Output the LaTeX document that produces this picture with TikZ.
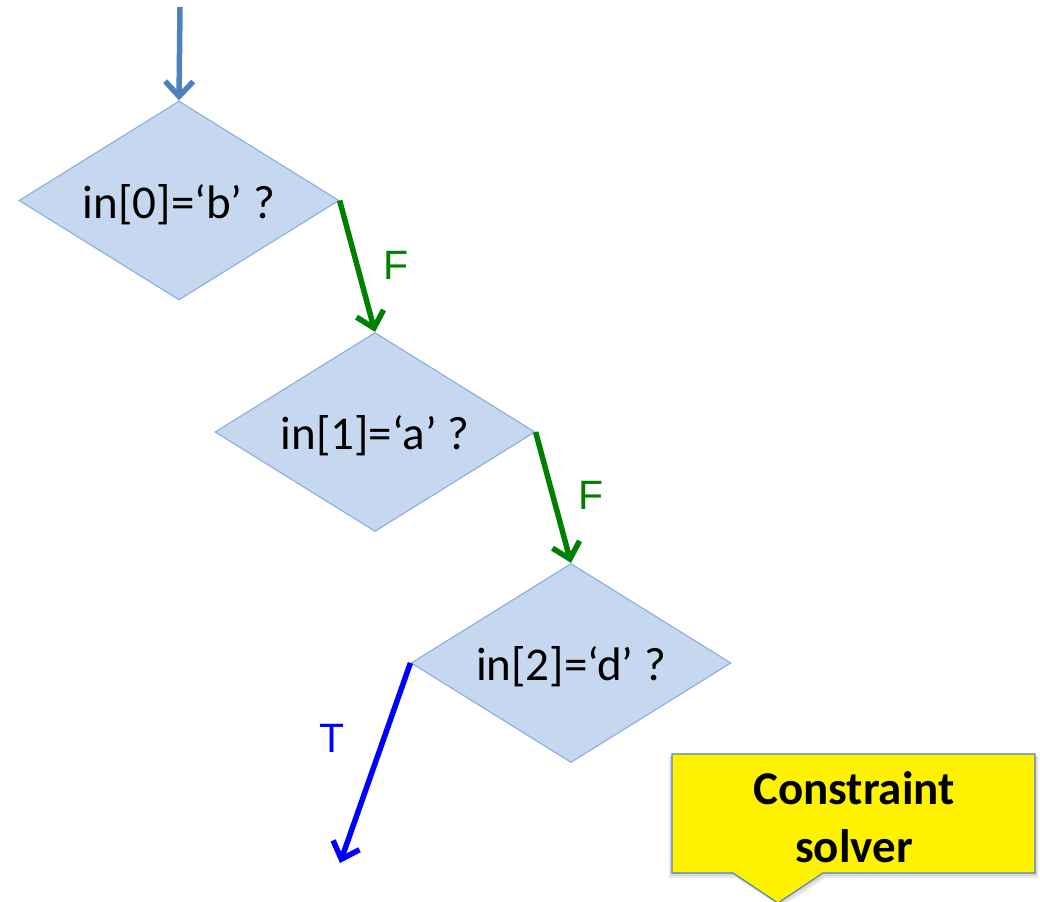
\documentclass[tikz,border=0pt]{standalone}
\usepackage{fontspec}
\setmainfont{Carlito}
\newfontfamily\arialf{Liberation Sans}
\usetikzlibrary{shapes.geometric,arrows.meta}
\definecolor{dfill}{RGB}{198,216,239}
\definecolor{dline}{RGB}{142,178,222}
\definecolor{topblue}{RGB}{79,129,189}
\definecolor{fgreen}{RGB}{0,128,0}
\definecolor{tblue}{RGB}{0,0,255}
\definecolor{cline}{RGB}{79,129,189}
\newcommand{\lowtxt}[1]{\raisebox{-4pt}[\height][\depth]{#1}}
\begin{document}
\begin{tikzpicture}[x=1pt,y=-1pt,
  cond/.style={diamond, aspect=1.6, minimum width=320pt, minimum height=199pt, inner sep=0pt,
    fill=dfill, draw=dline, line width=1.2pt, font=\fontsize{47}{52}\selectfont},
  flow/.style={line width=5.5pt, -{Straight Barb[length=15pt,width=28pt]}},
  lab/.style={font=\arialf\fontsize{41}{46}\selectfont, inner sep=0pt}]
\useasboundingbox (0,0) rectangle (1040,901);
\clip (0,0) rectangle (1040,901);

\node[cond] (d1) at (179,200.5) {\lowtxt{in[0]=‘b’ ?}};
\node[cond] (d2) at (375,432) {\lowtxt{in[1]=‘a’ ?}};
\node[cond] (d3) at (571,663) {\lowtxt{in[2]=‘d’ ?}};

\coordinate (start) at (180,7);
\coordinate (tend) at (340,863);

\draw[flow, topblue] (start) -- (d1.north);
\draw[flow, fgreen] (d1.east) -- (d2.north);
\draw[flow, fgreen] (d2.east) -- (d3.north);
\draw[flow, tblue] (d3.west) -- (tend);

\node[lab, text=fgreen] (f1) at (396,265) {F};
\node[lab, text=fgreen] (f2) at (591,495) {F};
\node[lab, text=tblue] (t1) at (332,738) {T};

% callout with soft shadow
\fill[black, opacity=0.08] (669,757) -- (1038,757) -- (1038,878) -- (826,878) -- (781,907) -- (736,878) -- (669,878) -- cycle;
\fill[black, opacity=0.08] (670,756) -- (1037,756) -- (1037,876) -- (825,876) -- (780,905) -- (735,876) -- (670,876) -- cycle;
\filldraw[fill=yellow, draw=cline, line width=1.2pt]
  (672,754) -- (1035,754) -- (1035,873) -- (823,873) -- (778,903) -- (733,873) -- (672,873) -- cycle;
\node[align=center, inner sep=0pt, font=\bfseries\fontsize{47}{58}\selectfont] (cs) at (854,817) {Constraint\\solver};
\end{tikzpicture}
\end{document}
